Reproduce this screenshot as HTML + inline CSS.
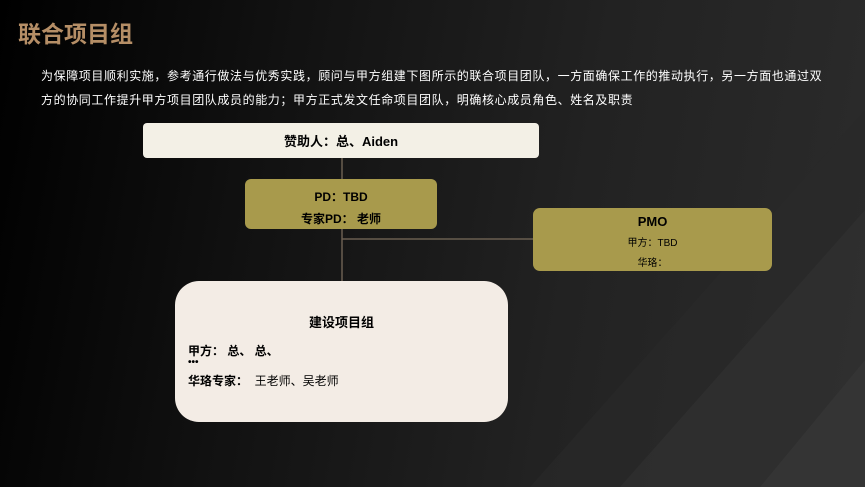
<!DOCTYPE html>
<html><head><meta charset="utf-8"><style>
body{margin:0;width:865px;height:487px;overflow:hidden;font-family:"Liberation Sans","Noto Sans CJK SC",sans-serif;}
#bg{position:absolute;left:0;top:0;width:865px;height:487px;background:linear-gradient(100deg,#000 0%,#111 30%,#222 65%,#2c2c2c 100%);}
.b{position:absolute;box-sizing:border-box;}
.t{position:absolute;white-space:nowrap;}
</style></head><body>
<div id="bg"></div>
<svg width="865" height="487" style="position:absolute;left:0;top:0">
<polygon points="530,487 865,110 865,487" fill="#2a2a2a" opacity="0.6"/>
<polygon points="620,487 865,210 865,487" fill="#333" opacity="0.5"/>
<polygon points="760,487 865,360 865,487" fill="#3a3a3a" opacity="0.5"/>
<line x1="342" y1="158" x2="342" y2="281" stroke="#6a5f50" stroke-width="1.5"/>
<line x1="342" y1="239" x2="533" y2="239" stroke="#6a5f50" stroke-width="1.5"/>
</svg>
<div class="t" style="left:18px;top:15px;font-size:23px;font-weight:bold;color:#b58e66;">联合项目组</div>
<div class="t" style="left:41px;top:64px;font-size:12px;color:#fff;line-height:24px;letter-spacing:0.6px;">为保障项目顺利实施，参考通行做法与优秀实践，顾问与甲方组建下图所示的联合项目团队，一方面确保工作的推动执行，另一方面也通过双<br>方的协同工作提升甲方项目团队成员的能力；甲方正式发文任命项目团队，明确核心成员角色、姓名及职责</div>
<div class="b" style="left:143px;top:123px;width:396px;height:35px;background:#f3f0e6;border-radius:4px;text-align:center;line-height:38px;font-size:13px;font-weight:bold;color:#000;">赞助人：总、Aiden</div>
<div class="b" style="left:245px;top:179px;width:192px;height:50px;background:#a89a4c;border-radius:6px;text-align:center;font-size:12px;font-weight:bold;color:#000;padding-top:7px;line-height:22px;">PD：TBD<br>专家PD： 老师</div>
<div class="b" style="left:533px;top:208px;width:239px;height:63px;background:#a89a4c;border-radius:7px;text-align:center;font-size:10px;color:#000;padding-top:4px;line-height:20px;"><span style="font-size:13px;font-weight:bold">PMO</span><br>甲方：TBD<br>华珞：</div>
<div class="b" style="left:175px;top:281px;width:333px;height:141px;background:#f3ece5;border-radius:24px;font-size:12px;color:#000;">
<div class="t" style="left:0;width:333px;text-align:center;top:31px;font-size:13px;font-weight:bold;">建设项目组</div>
<div class="t" style="left:13px;top:61px;font-weight:bold;">甲方： 总、 总、</div>
<div class="t" style="left:13px;top:76px;font-weight:bold;font-size:10px;">•••</div>
<div class="t" style="left:13px;top:91px;"><b>华珞专家：</b>&nbsp;&nbsp;王老师、吴老师</div>
</div>
</body></html>
